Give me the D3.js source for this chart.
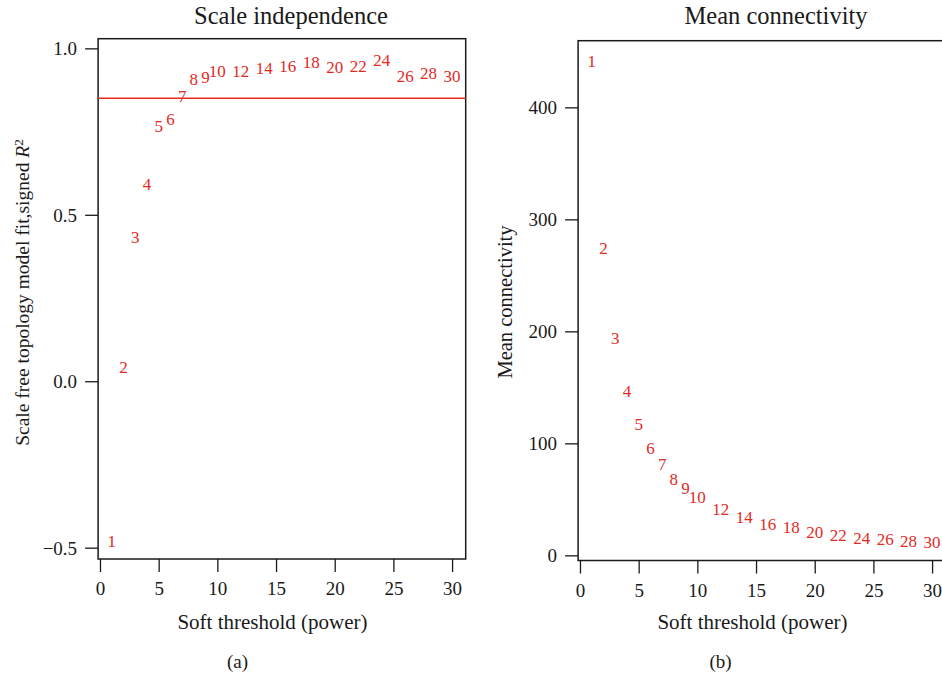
<!DOCTYPE html>
<html lang="en">
<head>
  <meta charset="UTF-8" />
  <title>Soft threshold selection</title>
  <script src="https://d3js.org/d3.v7.min.js"></script>
  <style>
    body {
      margin: 0;
      padding: 0;
      background-color: #fff;
    }
    svg {
      display: block;
      font-family: "Liberation Serif", "DejaVu Serif", serif;
    }
    .tick text {
      fill: #1a1a1a;
    }
  </style>
</head>
<body>
  <svg width="942" height="678"></svg>

  <script>
    // soft threshold powers tested
    const powers = [1, 2, 3, 4, 5, 6, 7, 8, 9, 10, 12, 14, 16, 18, 20, 22, 24, 26, 28, 30];
    // scale free topology fit, signed R^2
    const fitR2 = [-0.480, 0.042, 0.434, 0.593, 0.767, 0.787, 0.855, 0.908, 0.913, 0.932,
                   0.932, 0.940, 0.945, 0.957, 0.942, 0.945, 0.965, 0.917, 0.925, 0.915];
    // mean connectivity
    const meanK = [441.3, 274.1, 193.7, 146.1, 117.2, 95.5, 81.2, 68.4, 59.5, 52.3,
                   41.6, 33.9, 27.9, 24.7, 20.5, 18.1, 15.7, 14.3, 12.5, 11.3];

    const xTicks = [0, 5, 10, 15, 20, 25, 30];
    const fitTicks = [-0.5, 0, 0.5, 1.0];
    const kTicks = [0, 100, 200, 300, 400];
    const cutoff = 0.85;

    const svg = d3.select("svg");
    const red = "#e42a1f";
    const ink = "#1a1a1a";
    const serif = '"Liberation Serif", "DejaVu Serif", serif';
    const fmtFit = d => d3.format(".1f")(d).replace("-", "\u2212");

    function panel(opts) {
      const x = d3.scaleLinear().domain([-0.16, 31.16]).range(opts.xRange);
      const y = d3.scaleLinear().domain(opts.yDomain).range(opts.yRange);
      const g = svg.append("g");
      const bottom = opts.yRange[0];

      // x axis
      const xa = g.append("g")
        .attr("transform", `translate(0,${bottom})`)
        .call(d3.axisBottom(x).tickValues(xTicks).tickSize(13).tickSizeOuter(0))
        .attr("font-family", serif);
      xa.select(".domain").remove();
      xa.selectAll(".tick line").attr("stroke", ink).attr("stroke-width", 1.3);
      xa.selectAll(".tick text")
        .attr("y", 36).attr("dy", 0)
        .style("font-size", "19px");

      // y axis
      const left = opts.xRange[0];
      const ya = g.append("g")
        .attr("transform", `translate(${left},0)`)
        .call(d3.axisLeft(y).tickValues(opts.yTicks).tickFormat(opts.fmt).tickSize(13).tickSizeOuter(0))
        .attr("font-family", serif);
      ya.select(".domain").remove();
      ya.selectAll(".tick line").attr("stroke", ink).attr("stroke-width", 1.3);
      ya.selectAll(".tick text")
        .attr("x", -21).attr("dy", "0.34em")
        .style("font-size", "19px");

      // plot box
      g.append("rect")
        .attr("x", opts.xRange[0])
        .attr("y", opts.yRange[1])
        .attr("width", opts.xRange[1] - opts.xRange[0])
        .attr("height", opts.yRange[0] - opts.yRange[1])
        .attr("fill", "none")
        .attr("stroke", ink)
        .attr("stroke-width", 1.5);

      if (opts.hline !== undefined) {
        g.append("line")
          .attr("x1", opts.xRange[0]).attr("x2", opts.xRange[1])
          .attr("y1", y(opts.hline)).attr("y2", y(opts.hline))
          .attr("stroke", red).attr("stroke-width", 1.4);
      }

      // power labels as the points
      g.selectAll("text.pt")
        .data(powers.map((p, i) => ({p: p, v: opts.values[i]})))
        .enter().append("text")
        .attr("class", "pt")
        .attr("x", d => x(d.p))
        .attr("y", d => y(d.v))
        .attr("dy", "0.34em")
        .attr("text-anchor", "middle")
        .attr("fill", red)
        .style("font-size", "17px")
        .text(d => d.p);

      // title
      g.append("text")
        .attr("x", opts.titleX).attr("y", 24)
        .attr("text-anchor", "middle")
        .attr("fill", ink)
        .style("font-size", "24.5px")
        .text(opts.title);

      // x label
      g.append("text")
        .attr("x", opts.xLabelX).attr("y", 629)
        .attr("text-anchor", "middle")
        .attr("fill", ink)
        .style("font-size", "21px")
        .text("Soft threshold (power)");

      // panel letter
      g.append("text")
        .attr("x", opts.letterX).attr("y", 668)
        .attr("text-anchor", "middle")
        .attr("fill", ink)
        .style("font-size", "19px")
        .text(opts.letter);

      // y label
      const yl = g.append("text")
        .attr("transform", `translate(${opts.yLabelX},${opts.yLabelY}) rotate(-90)`)
        .attr("text-anchor", "middle")
        .attr("fill", ink)
        .style("font-size", opts.yLabelSize);
      opts.yLabel(yl);
    }

    panel({
      xRange: [98.1, 465.7],
      yDomain: [-0.534, 1.029],
      yRange: [559, 38.7],
      yTicks: fitTicks,
      fmt: fmtFit,
      values: fitR2,
      hline: cutoff,
      title: "Scale independence",
      titleX: 291,
      xLabelX: 272.5,
      letter: "(a)",
      letterX: 237.5,
      yLabelX: 28.5,
      yLabelY: 292.5,
      yLabelSize: "19.5px",
      yLabel: t => {
        t.append("tspan").text("Scale free topology model fit,signed ");
        t.append("tspan").style("font-style", "italic").text("R");
        t.append("tspan").attr("dy", "-0.45em").style("font-size", "0.68em").text("2");
      }
    });

    panel({
      xRange: [578.1, 945.7],
      yDomain: [-4.6, 459.5],
      yRange: [560.5, 40.7],
      yTicks: kTicks,
      fmt: d3.format("d"),
      values: meanK,
      title: "Mean connectivity",
      titleX: 776,
      xLabelX: 752.5,
      letter: "(b)",
      letterX: 720.5,
      yLabelX: 512,
      yLabelY: 302,
      yLabelSize: "20.5px",
      yLabel: t => t.text("Mean connectivity")
    });
  </script>
</body>
</html>
